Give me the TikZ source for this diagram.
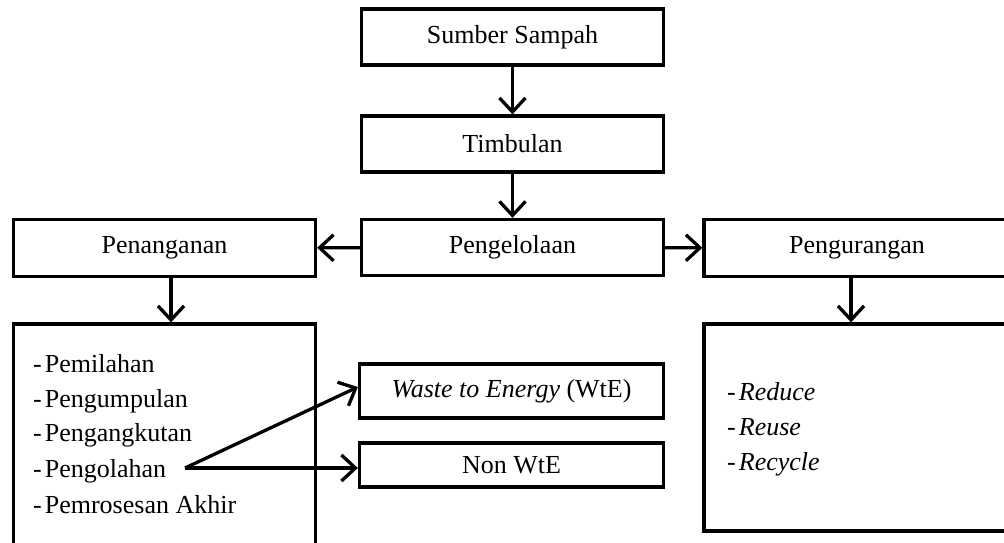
\documentclass[tikz,border=0pt]{standalone}
\usepackage{fontspec}
\setmainfont{Liberation Serif}
\usetikzlibrary{arrows.meta,calc}
\begin{document}
\begin{tikzpicture}[x=1pt,y=-1pt,
  box/.style={draw=black,line width=3.3pt,minimum width=302pt,inner sep=0pt,align=center,font=\fontsize{26}{30}\selectfont},
  arr/.style={line width=3.3pt,-{Straight Barb[length=14pt,width=26pt,line width=3.3pt]}},
  item/.style={anchor=base west,inner sep=0pt,font=\fontsize{26}{30}\selectfont}]
\useasboundingbox (0,0) rectangle (1004,542);
\clip (0,0) rectangle (1004,542);
\node[box,minimum height=56pt] (sumber) at (512.5,37) {Sumber Sampah};
\node[box,minimum height=56pt] (timb) at (512.5,144) {Timbulan};
\node[box,minimum height=56pt] (kelola) at (512.5,247.5) {Pengelolaan};
\node[box,minimum height=57pt] (tangan) at (164.5,248) {Penanganan};
\node[box,minimum height=57pt,minimum width=306pt] (kurang) at (857,248) {Pengurangan};
\node[box,minimum height=236pt] (listL) at (164.5,442) {};
\node[box,minimum height=207pt,minimum width=306pt] (listR) at (857,427.5) {};
\node[box,minimum width=304pt,minimum height=54pt] (wte) at (511.5,391) {\textit{Waste to Energy} (WtE)};
\node[box,minimum width=304pt,minimum height=44pt] (nonwte) at (511.5,465) {Non WtE};
\node[item] (l1) at (33,372) {-\kern3pt Pemilahan};
\node[item] (l2) at (33,407) {-\kern3pt Pengumpulan};
\node[item] (l3) at (33,441) {-\kern3pt Pengangkutan};
\node[item] (l4) at (33,477) {-\kern3pt Pengolahan};
\node[item] (l5) at (33,513) {-\kern3pt Pemrosesan Akhir};
\node[item] (r1) at (727,400) {-\kern3pt\textit{Reduce}};
\node[item] (r2) at (727,435) {-\kern3pt\textit{Reuse}};
\node[item] (r3) at (727,470) {-\kern3pt\textit{Recycle}};
\coordinate (src) at (185,468);
\draw[arr] (sumber) -- (timb);
\draw[arr] (timb) -- (kelola);
\draw[arr] (kelola) -- (tangan);
\draw[arr] (kelola) -- (kurang);
\draw[arr] ([xshift=6.5pt]tangan.south) -- ([xshift=6.5pt]listL.north);
\draw[arr] ([xshift=-6pt]kurang.south) -- ([xshift=-6pt]listR.north);
\draw[arr] (src) -- ([yshift=4pt]wte.west);
\draw[arr] (src) -- (src -| nonwte.west);
\end{tikzpicture}
\end{document}
